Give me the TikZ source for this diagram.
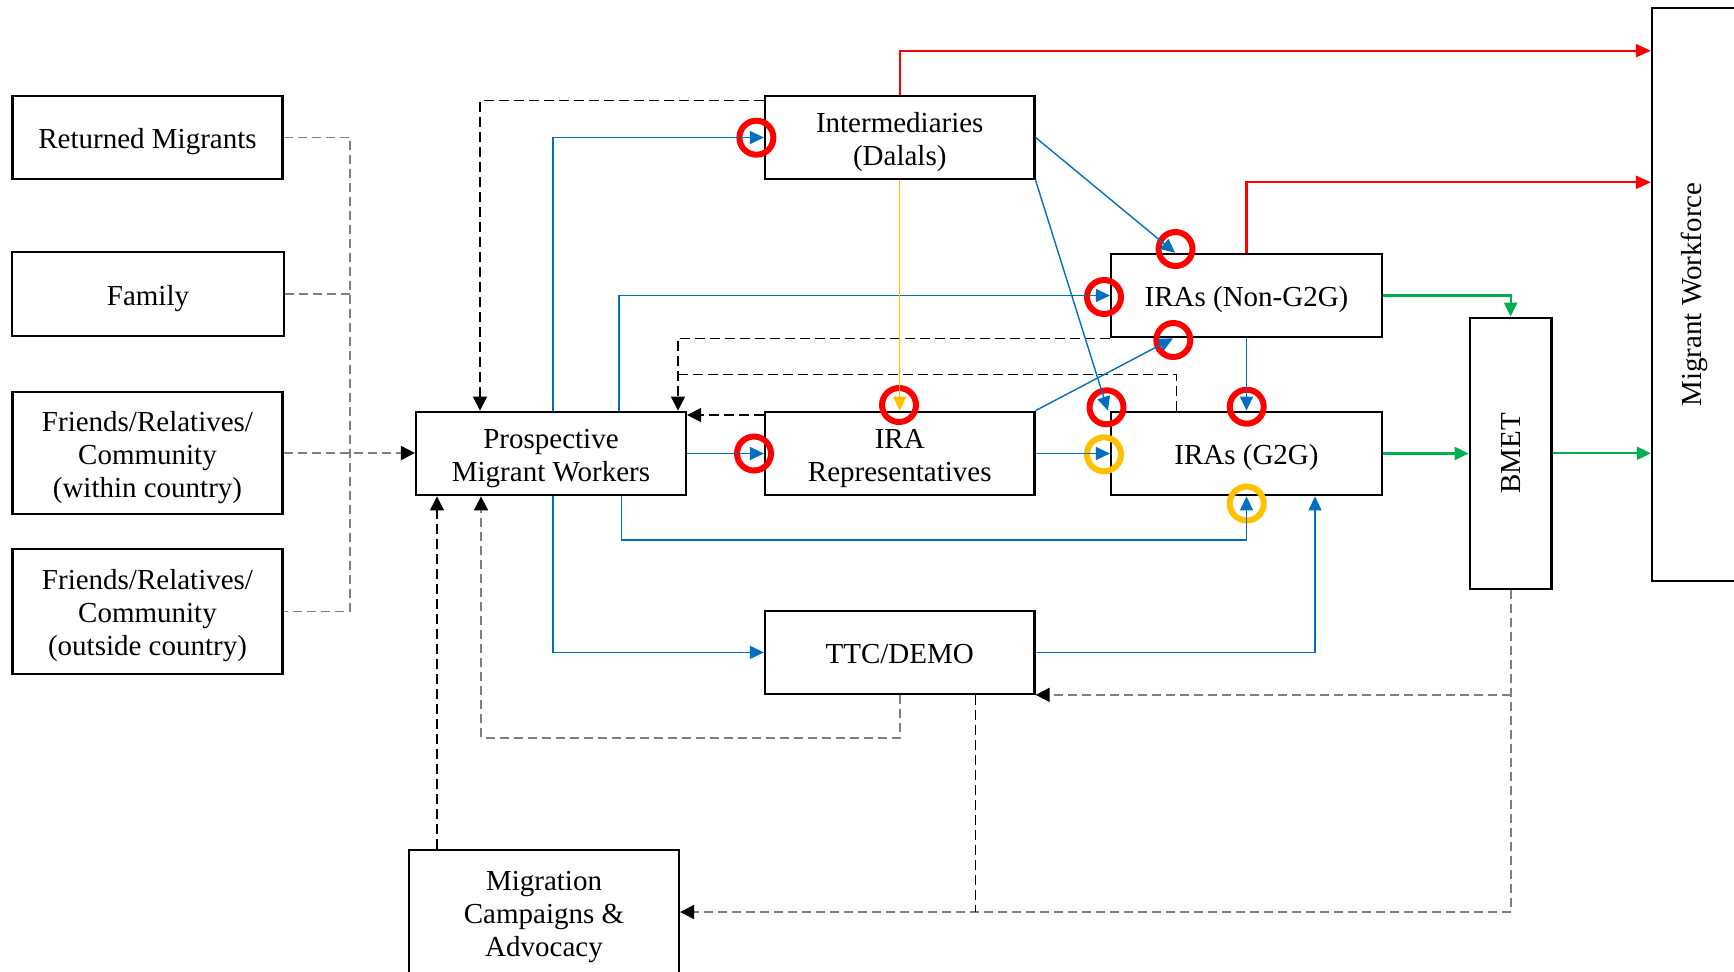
\documentclass[tikz,border=0pt]{standalone}
\usepackage{fontspec}
\setmainfont{Liberation Serif}
\usetikzlibrary{arrows.meta}
\definecolor{cblue}{HTML}{0070C0}
\definecolor{cred}{HTML}{FF0000}
\definecolor{cyel}{HTML}{FFC000}
\definecolor{cgreen}{HTML}{00B050}
\definecolor{cgray}{HTML}{7F7F7F}
\newcommand{\boxtxt}[1]{\raisebox{-2.2pt}[\height][\depth]{\begin{tabular}{@{}c@{}}#1\end{tabular}}}
\begin{document}
\begin{tikzpicture}[x=0.5pt,y=-0.5pt,
  box/.style={draw, line width=1.1pt, inner sep=0pt, align=center,
    font=\fontsize{14.5}{16.5}\selectfont, minimum width=135pt, minimum height=41.8pt},
  arr/.style={-{Triangle[length=7pt,width=6.5pt]}},
  karr/.style={-{Triangle[length=7pt,width=7pt,color=black]}},
  bl/.style={draw=cblue, line width=0.7pt, arr},
  yl/.style={draw=cyel, line width=0.7pt, arr},
  rd/.style={draw=cred, line width=1.1pt, -{Triangle[length=7.5pt,width=6.5pt]}},
  gr/.style={draw=cgreen, line width=1.1pt, -{Triangle[length=7pt,width=6.5pt]}},
  gdash/.style={draw=cgray, line width=0.9pt, dash pattern=on 4.5pt off 2.5pt},
  kdash/.style={draw=black, line width=0.55pt, dash pattern=on 5pt off 2.5pt},
  ringR/.style={circle, draw=cred, line width=3pt, minimum size=17pt, inner sep=0pt},
  ringY/.style={circle, draw=cyel, line width=3pt, minimum size=17pt, inner sep=0pt}]
\useasboundingbox (0,0) rectangle (1734,971);
\fill[white] (0,0) rectangle (1734,971);

% nodes
\node[box] (ret) at (147.5,137.5) {\boxtxt{Returned Migrants}};
\node[box, minimum width=136pt, minimum height=42pt] (fam) at (148,294) {\boxtxt{Family}};
\node[box, minimum height=61.3pt] (fw) at (147.5,453) {\boxtxt{Friends/Relatives/\\Community\\(within country)}};
\node[box, minimum height=62.2pt] (fo) at (147.5,611.5) {\boxtxt{Friends/Relatives/\\Community\\(outside country)}};
\node[box] (pmw) at (551,453.5) {\boxtxt{Prospective\\Migrant Workers}};
\node[box, minimum width=134.75pt] (inter) at (899.75,137.5) {\boxtxt{Intermediaries\\(Dalals)}};
\node[box, minimum width=134.75pt] (irar) at (899.75,453.5) {\boxtxt{IRA\\Representatives}};
\node[box, minimum width=135.5pt, minimum height=41.65pt] (ng) at (1246.5,295.5) {\boxtxt{IRAs (Non-G2G)}};
\node[box, minimum width=135.5pt] (g2g) at (1246.5,453.5) {\boxtxt{IRAs (G2G)}};
\node[box, minimum width=40.9pt, minimum height=135.6pt] (bmet) at (1510.6,453.3) {\rotatebox{90}{BMET}};
\node[box, minimum width=42pt, minimum height=286.2pt] (mw) at (1694,294.5) {\rotatebox{90}{Migrant Workforce}};
\node[box, minimum width=134.75pt, minimum height=41.35pt] (ttc) at (899.75,652.4) {\boxtxt{TTC/DEMO}};
\node[box, minimum height=62pt] (mig) at (544,912) {\boxtxt{Migration\\Campaigns \&\\Advocacy}};

% helper coordinates
\coordinate (x350) at (350,0);
\coordinate (x437) at (437,0);
\coordinate (x480) at (480,0);
\coordinate (x481) at (481,0);
\coordinate (x553) at (553,0);
\coordinate (x619) at (619,0);
\coordinate (x621) at (621.5,0);
\coordinate (x678) at (678,0);
\coordinate (x975) at (975.4,0);
\coordinate (x1173) at (1173,0);
\coordinate (x1175) at (1175,0);
\coordinate (x1176) at (1176.5,0);
\coordinate (x1315) at (1315,0);
\coordinate (y50) at (0,50.7);
\coordinate (y182) at (0,182.3);
\coordinate (y374) at (0,374.3);
\coordinate (y540) at (0,540);
\coordinate (y737) at (0,737.7);

% circles
\node[ringR] (c1) at (756.4,137.7) {};
\node[ringR] (c2) at (1104,297) {};
\node[ringR] (c3) at (754,453.5) {};
\node[ringR] (c4) at (1175.5,249) {};
\node[ringR] (c5) at (1173.3,340) {};
\node[ringR] (c6) at (1106.5,407.3) {};
\node[ringR] (c7) at (1246.7,406.7) {};
\node[ringR] (c8) at (899,405) {};
\node[ringY] (c9) at (1104,454.3) {};
\node[ringY] (c10) at (1246.7,503.5) {};

% grey dashed influence lines (left)
\draw[gdash] (ret.east) -- (ret.east -| x350) -- (fo.east -| x350) -- (fo.east);
\draw[gdash] (fam.east) -- (fam.east -| x350);
\draw[gdash, karr] (fw.east) -- (pmw.west |- fw.east);

% black dashed back to prospective migrants
\draw[kdash, karr] ([yshift=-3pt]inter.north west) -| (pmw.north -| x480);
\draw[kdash, karr] (ng.south west) -| (pmw.north -| x678);
\draw[kdash] (g2g.north -| x1176) |- (x678 |- y374);
\draw[kdash, karr] ([yshift=-2.2pt]irar.north west) -- ([yshift=-2.2pt]pmw.north east);
\draw[gdash, karr] (ttc.south) |- (x481 |- y737) -- (pmw.south -| x481);
\draw[kdash, karr] (mig.north -| x437) -- (pmw.south -| x437);

% BMET feedback
\draw[gdash, karr] (bmet.south) |- (mig.east);
\draw[gdash, karr] (bmet.south |- ttc.south east) -- (ttc.south east);
\draw[kdash] (ttc.south -| x975) -- (x975 |- mig.east);

% blue flows
\draw[bl] (pmw.north -| x553) |- (inter.west);
\draw[bl] (pmw.north -| x619) |- (ng.west);
\draw[bl] (pmw.east) -- (irar.west);
\draw[bl] (pmw.south -| x553) |- (ttc.west);
\draw[bl] (pmw.south -| x621) |- (g2g.south |- y540) -- (g2g.south);
\draw[bl] (ttc.east) -| (g2g.south -| x1315);
\draw[bl] (inter.east) -- (ng.north -| x1175);
\draw[bl] (inter.south east) -- ([xshift=-1pt]g2g.north west);
\draw[bl] (irar.north east) -- (ng.south -| x1173);
\draw[bl] (irar.east) -- (g2g.west);
\draw[bl] (ng.south) -- (g2g.north);
\draw[yl] (inter.south) -- (irar.north);

% red flows
\draw[rd] (inter.north) |- (mw.west |- y50);
\draw[rd] (ng.north) |- (mw.west |- y182);

% green flows
\draw[gr] (ng.east) -| (bmet.north);
\draw[gr] (g2g.east) -- (bmet.west |- g2g.east);
\draw[gr] (bmet.east) -- (mw.west |- bmet.east);
\end{tikzpicture}
\end{document}
